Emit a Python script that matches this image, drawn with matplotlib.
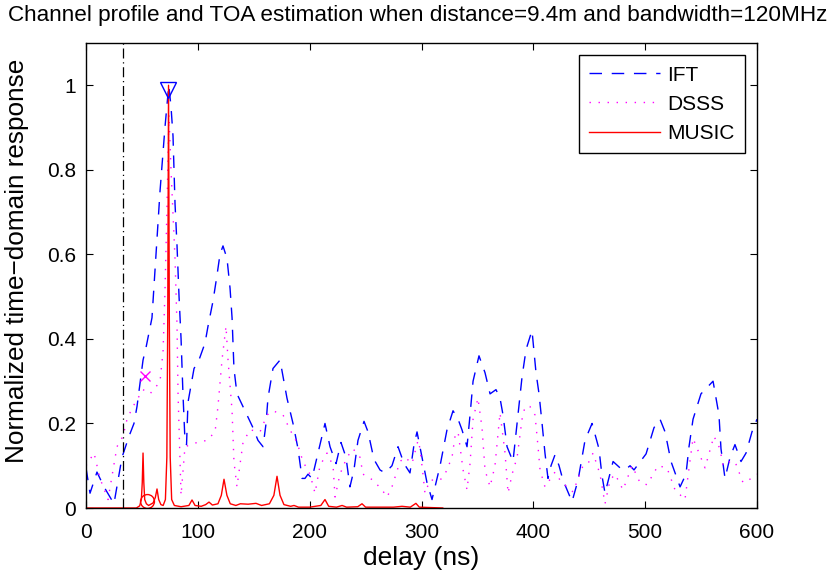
import matplotlib
matplotlib.use('Agg')
import matplotlib.pyplot as plt

plt.rcParams['font.family'] = ['Liberation Sans', 'DejaVu Sans']

title = 'Channel profile and TOA estimation when distance=9.4m and bandwidth=120MHz'

# IFT channel profile (blue dashed)
ift_x = [0, 3.6, 9.8, 16.1, 25, 32.2, 38.5, 42.9, 45.6, 51, 53.7, 59, 62.6, 66.2, 70.6, 74,
         76, 77.8, 79.6, 81.4, 83.2, 85, 86.7, 88.5, 89.9, 91.2, 93.9, 96.6, 101, 106.4,
         109.1, 113.6, 117.1, 119.8, 122.5, 126.1, 128.8, 130.6, 132.3, 135, 138.6, 144,
         149.3, 153.8, 158.3, 161, 162.7, 167.2, 173.5, 179.7, 185.1, 189.6, 193.2, 195.8,
         198.5, 202.1, 204.8, 207.5, 213.7, 218.2, 223.6, 228, 232.5, 236, 239.6, 243.2,
         248.6, 252.2, 257.5, 262.9, 267.4, 273.6, 279, 284.4, 289.7, 293.3, 296, 300.5,
         304.9, 309.4, 316.6, 322.8, 328.2, 332.7, 336.2, 340.7, 343.4, 346.1, 351.4, 356.8,
         361.3, 366.6, 370.2, 372.9, 376.5, 381.8, 386.3, 389.9, 393.5, 398.8, 402.4, 405.1,
         407.8, 410.4, 413.1, 415.8, 419.4, 423, 426.5, 434.6, 440, 446.2, 452.5, 458.7,
         461.4, 464.1, 471.3, 477.5, 482, 486.5, 490, 500.8, 507.9, 513.3, 517.8, 523.1,
         531.2, 536.5, 539.2, 542.8, 549.9, 560.7, 566, 567.8, 571.4, 575.9, 580.3, 585.7,
         590.2, 595.5, 600]
ift_y = [0.095, 0.035, 0.085, 0.05, 0.01, 0.12, 0.17, 0.2, 0.24, 0.35, 0.38, 0.45, 0.6, 0.75,
         0.9, 1.0, 0.95, 0.88, 0.72, 0.62, 0.5, 0.4, 0.27, 0.16, 0.15, 0.25, 0.29, 0.33, 0.35,
         0.39, 0.43, 0.49, 0.55, 0.6, 0.62, 0.59, 0.52, 0.45, 0.33, 0.27, 0.25, 0.22, 0.19,
         0.16, 0.145, 0.2, 0.26, 0.33, 0.35, 0.26, 0.2, 0.14, 0.07, 0.07, 0.08, 0.07, 0.1,
         0.13, 0.2, 0.145, 0.105, 0.155, 0.12, 0.05, 0.09, 0.16, 0.205, 0.18, 0.115, 0.09,
         0.083, 0.1, 0.145, 0.105, 0.083, 0.15, 0.18, 0.12, 0.06, 0.02, 0.1, 0.185, 0.23,
         0.21, 0.185, 0.145, 0.22, 0.3, 0.36, 0.32, 0.27, 0.28, 0.26, 0.22, 0.145, 0.11, 0.22,
         0.31, 0.375, 0.42, 0.32, 0.27, 0.2, 0.13, 0.07, 0.1, 0.126, 0.1, 0.066, 0.015, 0.066,
         0.16, 0.2, 0.14, 0.076, 0.035, 0.11, 0.095, 0.09, 0.1, 0.09, 0.128, 0.19, 0.21, 0.18,
         0.11, 0.05, 0.08, 0.145, 0.21, 0.27, 0.3, 0.22, 0.14, 0.07, 0.12, 0.15, 0.11, 0.13,
         0.18, 0.21]

# DSSS profile (magenta dotted)
dsss_x = [0, 7.2, 12.5, 19.7, 27.7, 33.1, 36.7, 42, 51, 57.2, 63.5, 66.2, 68.9, 70.6, 72.4,
          74.2, 76, 79.6, 81.4, 82.3, 84.1, 85, 88.5, 99.3, 108.2, 115.4, 118, 121.6, 125.2,
          127, 130.6, 132.3, 135, 140.4, 146.6, 155.6, 161.9, 167.2, 176.2, 182.4, 188.7, 194,
          200.3, 204.8, 209.2, 215.5, 220.9, 222.7, 227.1, 233.4, 238.8, 245, 247.7, 256.6,
          264.7, 269.2, 273.6, 280.8, 285.3, 291.5, 296.9, 298.7, 301.3, 303.1, 307.6, 316.6,
          321, 327.3, 330, 332.7, 337.2, 340.7, 343.4, 346.1, 350.5, 354.1, 356.8, 361.3,
          365.7, 370.2, 374.7, 377.4, 381, 385.5, 389.9, 392.6, 397, 401.5, 404.2, 406, 410.4,
          419.4, 423.9, 430.1, 435.5, 444.4, 448.9, 453.4, 459.6, 464.1, 468.6, 473.1, 480.2,
          488.3, 495.4, 501.7, 511.5, 519.5, 526.7, 535.6, 540, 542.8, 553.5, 561.5, 566.9,
          569.6, 575.9, 580.3, 587.5, 592, 600]
dsss_y = [0.1, 0.13, 0.07, 0.02, 0.145, 0.17, 0.21, 0.24, 0.28, 0.27, 0.29, 0.3, 0.37, 0.51,
          0.71, 0.93, 0.8, 0.59, 0.43, 0.27, 0.11, 0.03, 0.145, 0.155, 0.16, 0.18, 0.24, 0.35,
          0.43, 0.35, 0.23, 0.11, 0.05, 0.155, 0.185, 0.18, 0.22, 0.23, 0.22, 0.185, 0.155,
          0.11, 0.08, 0.035, 0.1, 0.13, 0.1, 0.026, 0.08, 0.12, 0.14, 0.12, 0.08, 0.066, 0.043,
          0.026, 0.05, 0.11, 0.12, 0.105, 0.16, 0.14, 0.08, 0.035, 0.066, 0.066, 0.08, 0.12,
          0.17, 0.18, 0.09, 0.043, 0.105, 0.21, 0.26, 0.19, 0.09, 0.05, 0.1, 0.225, 0.13, 0.035,
          0.08, 0.12, 0.21, 0.24, 0.24, 0.22, 0.145, 0.09, 0.05, 0.085, 0.066, 0.05, 0.038, 0.1,
          0.105, 0.13, 0.08, 0.01, 0.066, 0.08, 0.043, 0.1, 0.06, 0.055, 0.1, 0.095, 0.043,
          0.02, 0.11, 0.165, 0.095, 0.17, 0.14, 0.1, 0.11, 0.11, 0.06, 0.065, 0.08]

# MUSIC pseudo-spectrum (red solid)
music_x = [0, 45, 48, 49.5, 50.3, 51.0, 51.7, 52.5, 54, 56, 60, 62, 63.5, 65, 67, 69, 71, 72.3,
           73.1, 73.8, 74.5, 75.3, 76.6, 79, 85, 92, 94.8, 97.5, 103, 107, 110, 113, 118, 121,
           123.4, 126, 129, 134, 138, 145, 152, 157, 164, 168, 170.8, 173.5, 177, 183, 186, 190,
           200, 210, 213.7, 217, 224, 229, 233, 243, 246.8, 250, 275, 282.6, 290, 295, 298, 319]
music_y = [0, 0, 0.005, 0.02, 0.06, 0.13, 0.06, 0.02, 0.01, 0.006, 0.012, 0.025, 0.045, 0.02,
           0.008, 0.006, 0.02, 0.12, 0.45, 1.0, 0.45, 0.12, 0.02, 0.006, 0.003, 0.006, 0.019,
           0.006, 0.004, 0.008, 0.014, 0.007, 0.01, 0.03, 0.068, 0.03, 0.01, 0.006, 0.01, 0.009,
           0.011, 0.006, 0.01, 0.03, 0.075, 0.03, 0.008, 0.004, 0.006, 0.002, 0.002, 0.006, 0.02,
           0.004, 0.002, 0.006, 0.002, 0.003, 0.01, 0.002, 0.002, 0.004, 0.002, 0.011, 0.002, 0]

# TOA estimates and true delay
true_toa = 33.2
ift_toa = (73.6, 0.99)
dsss_toa = (52.8, 0.313)
music_toa = (54.3, 0.017)

xticks = [0, 100, 200, 300, 400, 500, 600]
yticks = [0, 0.2, 0.4, 0.6, 0.8, 1]
ytick_labels = ['0', '0.2', '0.4', '0.6', '0.8', '1']


def main():
    fig = plt.figure(figsize=(8.36, 5.77), dpi=100)
    ax = fig.add_axes([86 / 836, 1 - 508 / 577, 671 / 836, 465 / 577])

    ax.plot(ift_x, ift_y, color='blue', lw=1.0, dashes=(9, 7), label='IFT')
    ax.plot(dsss_x, dsss_y, color='magenta', lw=1.0, dashes=(1, 5.5), label='DSSS')
    ax.plot(music_x, music_y, color='red', lw=1.0, label='MUSIC')

    ax.axvline(true_toa, color='black', lw=0.9, dashes=(8, 3, 1, 3))
    ax.plot(*ift_toa, marker='v', ms=11, mfc='none', mec='blue', mew=1.0)
    ax.plot(*dsss_toa, marker='x', ms=7, mec='magenta', mew=1.0)
    ax.plot(*music_toa, marker='o', ms=10, mfc='none', mec='red', mew=1.0)

    ax.set_xlim(0, 600)
    ax.set_ylim(0, 1.1)
    ax.set_xticks(xticks)
    ax.set_yticks(yticks)
    ax.set_yticklabels(ytick_labels)
    ax.tick_params(direction='in', length=5, width=0.8, top=True, right=True,
                   labelsize=15)
    ax.tick_params(axis='x', pad=11)
    ax.tick_params(axis='y', pad=7)
    for s in ax.spines.values():
        s.set_linewidth(1.0)

    ax.set_xlabel('delay (ns)', fontsize=19, labelpad=3)
    ax.set_ylabel('Normalized time\u2212domain response', fontsize=18.8, labelpad=6)
    ax.yaxis.set_label_coords(-0.085, 0.531)
    fig.text(0.5, 1 - 15 / 577, title, ha='center', va='center', fontsize=16.2)

    leg = ax.legend(loc='upper right', bbox_to_anchor=(0.982, 0.974), borderaxespad=0,
                    fontsize=15, handlelength=3.4, fancybox=False, edgecolor='black',
                    framealpha=1, labelspacing=0.49, borderpad=0.5, handletextpad=0.35)
    leg.get_frame().set_linewidth(1.0)

    fig.savefig('out.png', dpi=100)


if __name__ == '__main__':
    main()
